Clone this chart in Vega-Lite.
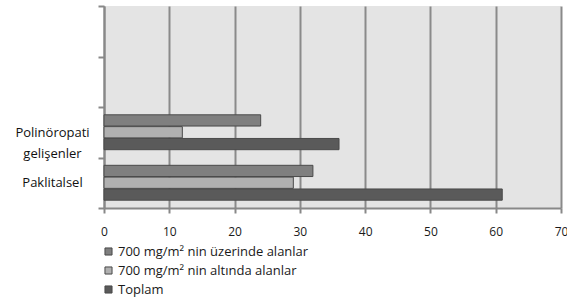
{
  "$schema": "https://vega.github.io/schema/vega-lite/v6.json",
  "width": 457,
  "height": 202,
  "autosize": {"type": "none"},
  "padding": {"left": 104, "top": 6, "right": 6, "bottom": 90},
  "background": "white",
  "config": {
    "view": {"fill": "#e4e4e4", "stroke": null},
    "font": "Open Sans"
  },
  "data": {
    "values": [
      {"cat": "Polinöropati gelişenler", "series": "700 mg/m² nin üzerinde alanlar", "value": 24},
      {"cat": "Polinöropati gelişenler", "series": "700 mg/m² nin altında alanlar", "value": 12},
      {"cat": "Polinöropati gelişenler", "series": "Toplam", "value": 36},
      {"cat": "Paklitalsel", "series": "700 mg/m² nin üzerinde alanlar", "value": 32},
      {"cat": "Paklitalsel", "series": "700 mg/m² nin altında alanlar", "value": 29},
      {"cat": "Paklitalsel", "series": "Toplam", "value": 61}
    ]
  },
  "mark": {"type": "bar", "stroke": "#4a4a4a", "strokeWidth": 1},
  "encoding": {
    "y": {
      "field": "cat",
      "type": "nominal",
      "scale": {"domain": ["e1", "e2", "Polinöropati gelişenler", "Paklitalsel"], "paddingInner": 0, "paddingOuter": 0},
      "axis": {
        "title": null,
        "tickBand": "extent",
        "tickSize": 6,
        "tickColor": "#888888",
        "tickWidth": 2,
        "domainColor": "#888888",
        "domainWidth": 2,
        "labelFontSize": 13,
        "labelColor": "#111111",
        "labelAlign": "center",
        "labelPadding": 46,
        "labelLineHeight": 21,
        "labelExpr": "datum.value == 'Polinöropati gelişenler' ? ['Polinöropati', 'gelişenler'] : (datum.value == 'Paklitalsel' ? 'Paklitalsel' : '')"
      }
    },
    "yOffset": {
      "field": "series",
      "scale": {"domain": ["700 mg/m² nin üzerinde alanlar", "700 mg/m² nin altında alanlar", "Toplam"], "paddingInner": 0.05, "paddingOuter": 0.66}
    },
    "x": {
      "field": "value",
      "type": "quantitative",
      "scale": {"domain": [0, 70]},
      "axis": {
        "title": null,
        "values": [0, 10, 20, 30, 40, 50, 60, 70],
        "grid": true,
        "gridColor": "#8a8a8a",
        "gridWidth": 2,
        "tickColor": "#888888",
        "tickWidth": 2,
        "tickSize": 5,
        "domainColor": "#888888",
        "domainWidth": 2,
        "labelFontSize": 12,
        "labelColor": "#1a1a1a",
        "labelPadding": 13,
        "labelFlush": false
      }
    },
    "color": {
      "field": "series",
      "type": "nominal",
      "scale": {"domain": ["700 mg/m² nin üzerinde alanlar", "700 mg/m² nin altında alanlar", "Toplam"], "range": ["#7f7f7f", "#b0b0b0", "#5a5a5a"]},
      "legend": {
        "title": null,
        "orient": "none",
        "legendX": -2,
        "legendY": 239,
        "direction": "vertical",
        "symbolType": "square",
        "symbolSize": 50,
        "symbolStrokeColor": "#4a4a4a",
        "symbolStrokeWidth": 1,
        "labelFontSize": 13,
        "labelColor": "#1a1a1a",
        "labelLimit": 0,
        "rowPadding": 5,
        "labelOffset": 3
      }
    }
  }
}
